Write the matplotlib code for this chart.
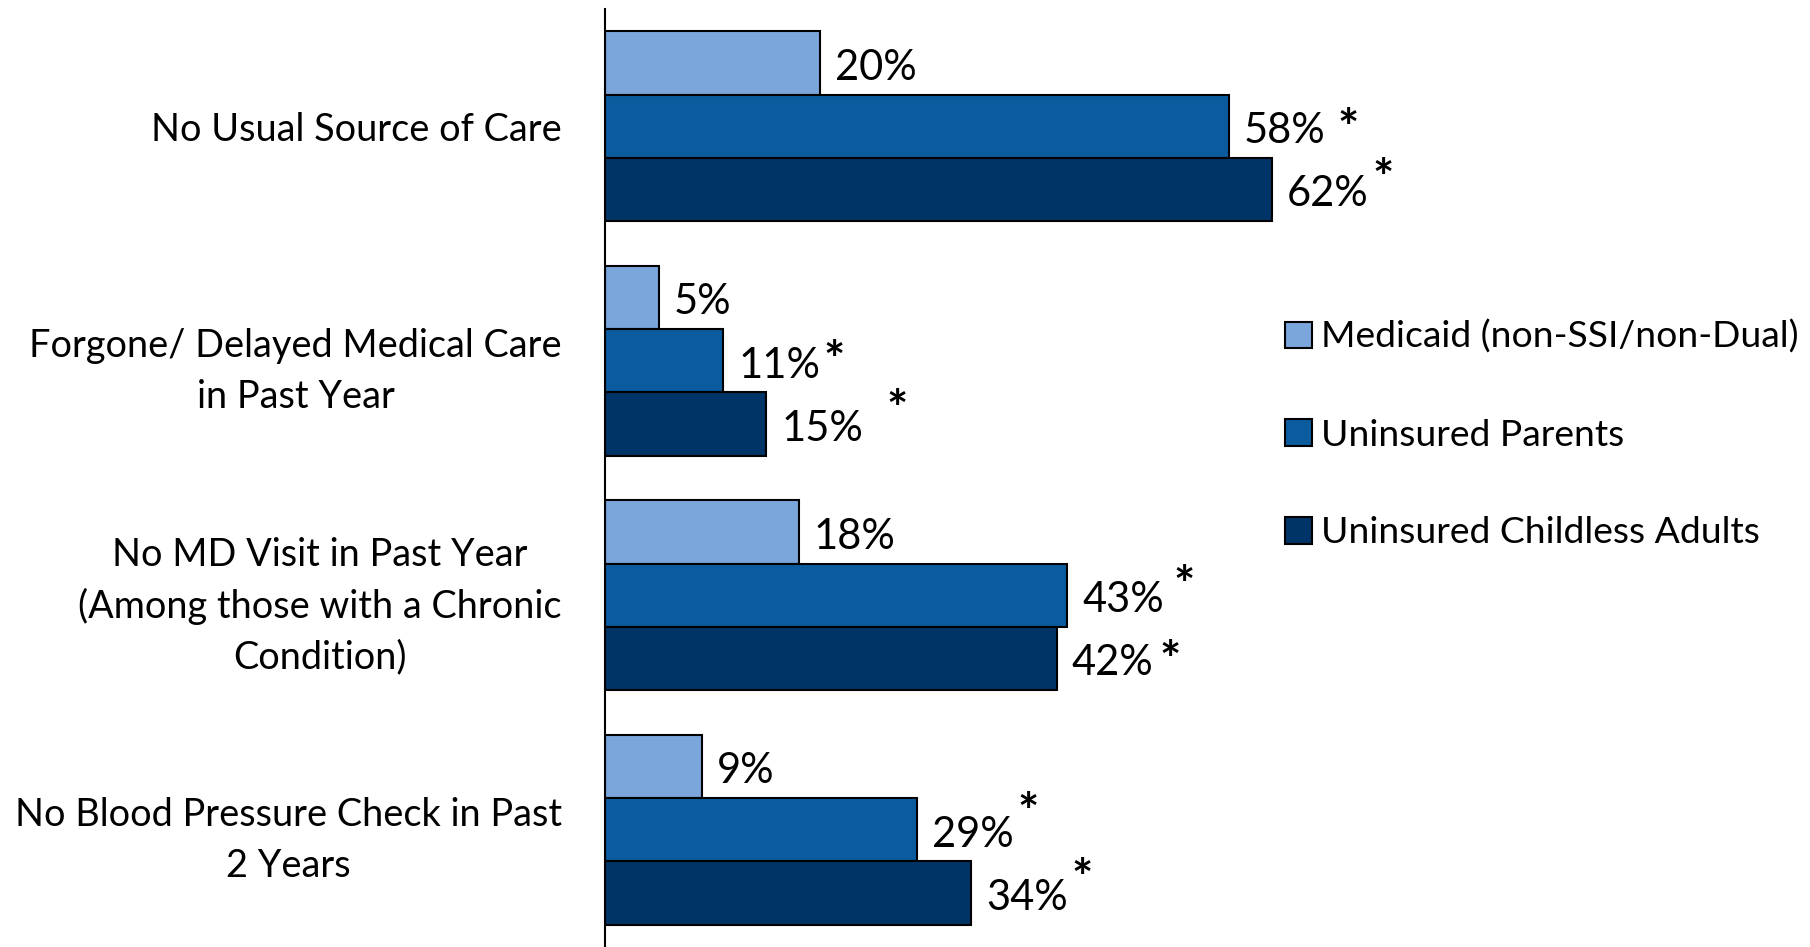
import matplotlib
matplotlib.use('Agg')
import matplotlib.pyplot as plt
import numpy as np

plt.rcParams['font.family'] = ['Lato', 'DejaVu Sans']

categories = [
    'No Usual Source of Care',
    'Forgone/ Delayed Medical Care\nin Past Year',
    'No MD Visit in Past Year\n(Among those with a Chronic\nCondition)',
    'No Blood Pressure Check in Past\n2 Years',
]
series_names = ['Medicaid (non-SSI/non-Dual)', 'Uninsured Parents', 'Uninsured Childless Adults']
medicaid = [20, 5, 18, 9]
parents = [58, 11, 43, 29]
childless = [62, 15, 42, 34]
significant = [[False] * 4, [True] * 4, [True] * 4]

colors = ['#7BA6DC', '#0B5C9E', '#003466']
# asterisk offsets from bar end, in points (layout only)
star_offsets = [
    None,
    [(86, 8), (80, 10), (84, 17), (80, 22)],
    [(80, 18), (94, 20), (82, 8), (80, 20)],
]
star_size = 36

fig = plt.figure(figsize=(18.1, 9.47), dpi=100)
ax = fig.add_axes([605 / 1810, 0, 1 - 605 / 1810, 938 / 947])

y = np.arange(len(categories))
h = 0.27
series = [medicaid, parents, childless]
handles = []
for i, vals in enumerate(series):
    pos = y + (i - 1) * h
    bars = ax.barh(pos, vals, height=h, color=colors[i], edgecolor='black', linewidth=1.5)
    handles.append(bars)
    for j, v in enumerate(vals):
        ax.annotate('%d%%' % v, (v, pos[j]), xytext=(11, -3.5), textcoords='offset points',
                    va='center', ha='left', fontsize=30)
        if significant[i][j]:
            dx, dy = star_offsets[i][j]
            ax.annotate('*', (v, pos[j]), xytext=(dx, dy - 0.31 * star_size),
                        textcoords='offset points', va='center', ha='center',
                        fontsize=star_size, fontweight='bold')

ax.set_ylim(3.5, -0.5)
ax.set_xlim(0, 1205 / 10.75)
ax.set_yticks(y)
ax.set_yticklabels(categories, fontsize=27.3)
for lab in ax.get_yticklabels():
    lab.set_multialignment('center')
    lab.set_linespacing(1.5)
ax.tick_params(axis='y', length=0, pad=31)
ax.set_xticks([])
for s in ['top', 'right', 'bottom']:
    ax.spines[s].set_visible(False)
ax.spines['left'].set_linewidth(1.5)

fig.legend(handles, series_names, loc='center left', bbox_to_anchor=(0.710, 0.541),
           frameon=False, fontsize=26.8, handlelength=0.72, handleheight=0.72,
           handletextpad=0.25, labelspacing=1.74, borderpad=0, borderaxespad=0)

plt.savefig('out.png', dpi=100)
